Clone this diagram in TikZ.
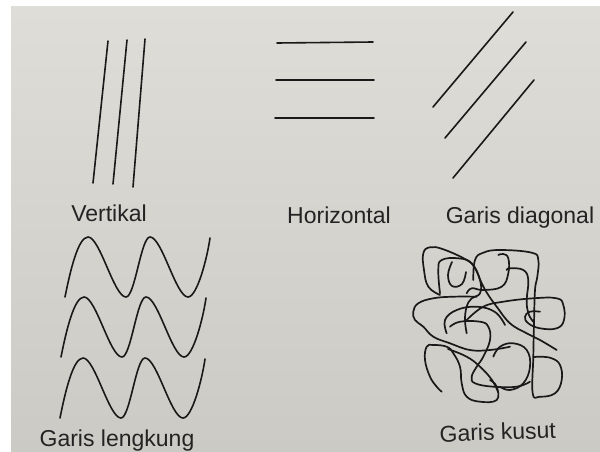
\documentclass[tikz,border=0pt]{standalone}
\usepackage{fontspec}
\setmainfont{Liberation Sans}
\definecolor{ink}{RGB}{25,25,25}
\definecolor{txt}{RGB}{35,35,35}
\definecolor{pagetop}{RGB}{222,221,216}
\definecolor{pagebot}{RGB}{204,202,196}
\begin{document}
\begin{tikzpicture}[x=1pt,y=-1pt,
  stroke/.style={draw=ink,line width=1.6pt,line cap=round,line join=round},
  scrib/.style={draw=ink,line width=1.7pt,line cap=round,line join=round},
  lbl/.style={text=txt,font=\fontsize{23}{27}\selectfont,inner sep=0pt,anchor=base}]
\useasboundingbox (0,0) rectangle (600,452);
\fill[white] (0,0) rectangle (600,452);
\fill[top color=pagetop,bottom color=pagebot] (11,7) rectangle (600,452);

% Vertikal
\draw[stroke] (108,41) -- (93,183);
\draw[stroke] (127,40) -- (113,184);
\draw[stroke] (145,39) -- (133,187);
\node[lbl] (vert) at (109,221) {Vertikal};

% Horizontal
\draw[stroke] (277,43) -- (373,42);
\draw[stroke] (276,80) -- (374,80);
\draw[stroke] (275,118) -- (374,118);
\node[lbl] (hor) at (339,223) {Horizontal};

% Diagonal
\draw[stroke] (433,107) -- (513,12);
\draw[stroke] (445,138) -- (526,42);
\draw[stroke] (453,178) -- (534,80);
\node[lbl] (diag) at (520,223) {Garis diagonal};

% Garis lengkung
\foreach \dx/\dy in {65/237, 61/297, 60/358}{
  \draw[stroke,shift={(\dx,\dy)}] (0,60) .. controls (5,35) and (13,0) .. (23,0)
    .. controls (35,0) and (49,60) .. (61,60)
    .. controls (70,60) and (76,0) .. (85,0)
    .. controls (97,0) and (111,60) .. (123,60)
    .. controls (132,60) and (142,22) .. (145,1);
}
\node[lbl] (lengk) at (117,446) {Garis lengkung};

% Garis kusut
\draw[scrib] plot[smooth,tension=0.7] coordinates {(440,295) (428.3,286.7) (424,270) (423.3,253.3) (430,247.3) (443.3,249.3) (466.7,260) (475,268.3) (481.7,283.3) (488.3,295) (496.7,306.7) (510,323.3) (526.7,333.3) (540,340) (556.7,350)};
\draw[scrib] plot[smooth,tension=0.7] coordinates {(473.3,280) (475,260) (483.3,252.7) (500,250) (531.7,252.7) (538.3,260) (537.3,276.7) (535,290) (534,323.3) (533.3,356.7) (532.7,393.3) (540,396.7) (555,393.3) (561.7,380) (560,365) (551.7,358.3) (540,356.7) (533.3,357.3)};
\draw[scrib] plot[smooth,tension=0.7] coordinates {(440,293.3) (438.3,270) (441.7,260) (458.3,258.3) (471.7,263.3) (480,280) (480,293.3) (471.7,298.3) (466.7,306.7) (465,320) (466.7,333.3)};
\draw[scrib] plot[smooth,tension=0.7] coordinates {(498.3,255) (503.3,254) (508.3,258.3) (508.3,273.3) (501.7,286.7) (483.3,290) (471.7,288.3) (466.7,293.3)};
\draw[scrib] plot[smooth,tension=0.7] coordinates {(506.7,270) (510,268.3) (523.3,270) (528.3,280) (526.7,300) (528.3,313.3) (533.3,321.7)};
\draw[scrib] plot[smooth,tension=0.7] coordinates {(476.7,296.7) (453.3,296.7) (433.3,298.3) (418.3,303.3) (413.3,311.7) (415,320) (423.3,326.7) (433.3,336.7) (450,343.3) (470,350) (490,350) (510,346.7)};
\draw[scrib] plot[smooth,tension=0.7] coordinates {(466.7,320) (483.3,306.7) (503.3,301.7) (533.3,298.3) (556.7,298.3) (563.3,305) (564,320) (556.7,328.3) (540,328.3) (528.3,323.3) (525,316.7) (530,311.7) (540,311.7)};
\draw[scrib] plot[smooth,tension=0.7] coordinates {(450,326.7) (460,321.7) (480,321.7) (488.3,326.7) (490,340) (483.3,356.7) (476.7,366.7) (471.7,376.7) (475,383.3) (493.3,386.7) (516.7,386.7) (530,381.7)};
\draw[scrib] plot[smooth,tension=0.7] coordinates {(441.7,391.7) (436.7,386.7) (430,376.7) (425,360) (426.7,346.7) (433.3,345) (446.7,346.7) (453.3,353.3) (460,366.7) (461.7,383.3) (466.7,396.7) (480,401.7) (496.7,400) (496.7,386.7) (490,380)};
\draw[scrib] plot[smooth,tension=0.7] coordinates {(493.3,356.7) (500,346.7) (513.3,343.3) (526.7,350) (530,366.7) (523.3,383.3) (510,390) (500,386.7)};
\draw[scrib] plot[smooth,tension=0.7] coordinates {(446.7,333.3) (445,320) (456.7,310) (476.7,306.7) (495,312) (505,325)};
\draw[scrib] plot[smooth,tension=0.7] coordinates {(448,349) (466.7,356.7) (480,366.7) (492,380) (498,392)};
\draw[scrib] plot[smooth,tension=0.7] coordinates {(452,262) (448,275) (452,286) (462,284) (466,272)};
\node[lbl,rotate=2] (kusut) at (498,440) {Garis kusut};
\end{tikzpicture}
\end{document}
